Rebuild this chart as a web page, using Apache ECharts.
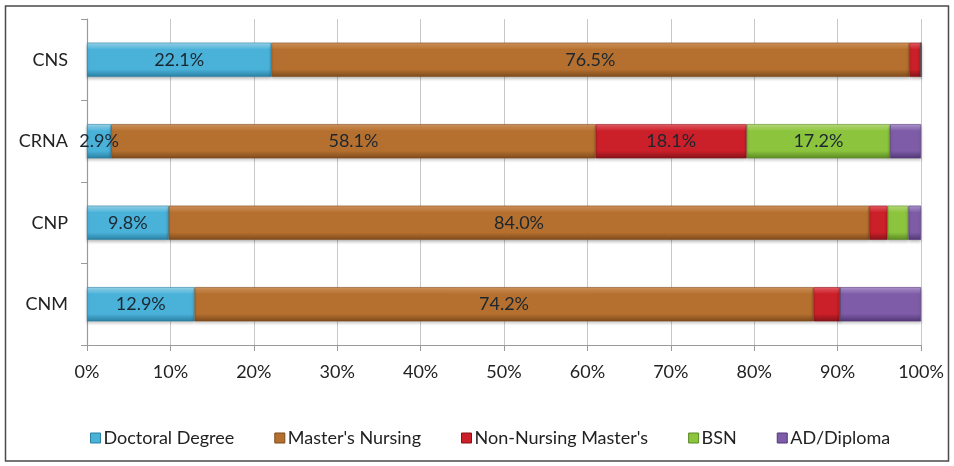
<!DOCTYPE html>
<html>
<head>
<meta charset="utf-8">
<script src="https://cdn.jsdelivr.net/npm/echarts@6/dist/echarts.min.js"></script>
<style>
  html, body { margin: 0; padding: 0; background: #fff; }
  #chart { width: 954px; height: 466px; }
</style>
</head>
<body>
<div id="chart"></div>
<script>
// Credential categories (top to bottom)
const categories = ['CNS', 'CRNA', 'CNP', 'CNM'];

// Share of each highest degree, percent
const doctoral = [22.1, 2.9, 9.8, 12.9];
const mastersNursing = [76.5, 58.1, 84.0, 74.2];
const nonNursingMasters = [1.4, 18.1, 2.2, 3.2];
const bsn = [0, 17.2, 2.5, 0];
const adDiploma = [0, 3.7, 1.5, 9.7];

const seriesNames = ['Doctoral Degree', "Master's Nursing", "Non-Nursing Master's", 'BSN', 'AD/Diploma'];
const seriesData = [doctoral, mastersNursing, nonNursingMasters, bsn, adDiploma];

// light / base / dark tones for a bevelled look
const palette = [
  ['#9fdcf2', '#4ab2d9', '#2a7fa3'],
  ['#d9995f', '#b5702f', '#7e4a1c'],
  ['#ee6168', '#cb1f29', '#86131a'],
  ['#bfe37f', '#8cc43e', '#5a8a23'],
  ['#b49ad6', '#7e5ca8', '#523676']
];

const FONT = 'Lato, "Open Sans", sans-serif';

function bevel(c) {
  return new echarts.graphic.LinearGradient(0, 0, 0, 1, [
    { offset: 0, color: c[0] },
    { offset: 0.2, color: c[1] },
    { offset: 0.78, color: c[1] },
    { offset: 1, color: c[2] }
  ]);
}

const series = seriesNames.map((name, i) => ({
  name: name,
  type: 'bar',
  stack: 'total',
  barWidth: '42%',
  data: seriesData[i],
  itemStyle: {
    color: bevel(palette[i]),
    borderColor: palette[i][2],
    borderWidth: 0.6,
    shadowColor: 'rgba(0,0,0,0.25)',
    shadowBlur: 3,
    shadowOffsetY: 2
  },
  label: {
    show: true,
    position: 'inside',
    color: '#1b2730',
    fontFamily: FONT,
    fontSize: 18,
    formatter: p => (p.value >= 2.5 && (i < 2 || p.value >= 10)) ? p.value.toFixed(1) + '%' : ''
  },
  emphasis: { disabled: true }
}));

const chart = echarts.init(document.getElementById('chart'), null, { renderer: 'canvas' });
chart.setOption({
  animation: false,
  backgroundColor: '#ffffff',
  graphic: [{
    type: 'rect',
    shape: { x: 5.5, y: 6, width: 943, height: 455 },
    style: { fill: 'none', stroke: '#4a4a4a', lineWidth: 1.5 },
    silent: true
  }],
  grid: { left: 87, right: 33, top: 19, bottom: 121 },
  legend: {
    bottom: 14,
    left: 85,
    itemWidth: 10,
    itemHeight: 10,
    itemGap: 40,
    icon: 'rect',
    textStyle: { fontFamily: FONT, fontSize: 18, color: '#222', padding: [0, 0, 0, -2] },
    data: seriesNames.map((n, i) => ({ name: n, itemStyle: { color: palette[i][1], borderColor: palette[i][2], borderWidth: 1 } }))
  },
  xAxis: {
    type: 'value',
    min: 0,
    max: 100,
    interval: 10,
    axisLine: { show: true, lineStyle: { color: '#9a9a9a', width: 1.2 } },
    axisTick: { show: true, length: 6, lineStyle: { color: '#9a9a9a' } },
    axisLabel: { formatter: '{value}%', margin: 18, fontFamily: FONT, fontSize: 18, color: '#222' },
    splitLine: { show: true, lineStyle: { color: '#c8c8c8', width: 1 } }
  },
  yAxis: {
    type: 'category',
    inverse: true,
    data: categories,
    axisLine: { show: true, lineStyle: { color: '#9a9a9a', width: 1.2 } },
    axisTick: { show: true, length: 6, lineStyle: { color: '#9a9a9a' } },
    axisLabel: { margin: 19, fontFamily: FONT, fontSize: 18, color: '#222' }
  },
  series: series
});
</script>
</body>
</html>
